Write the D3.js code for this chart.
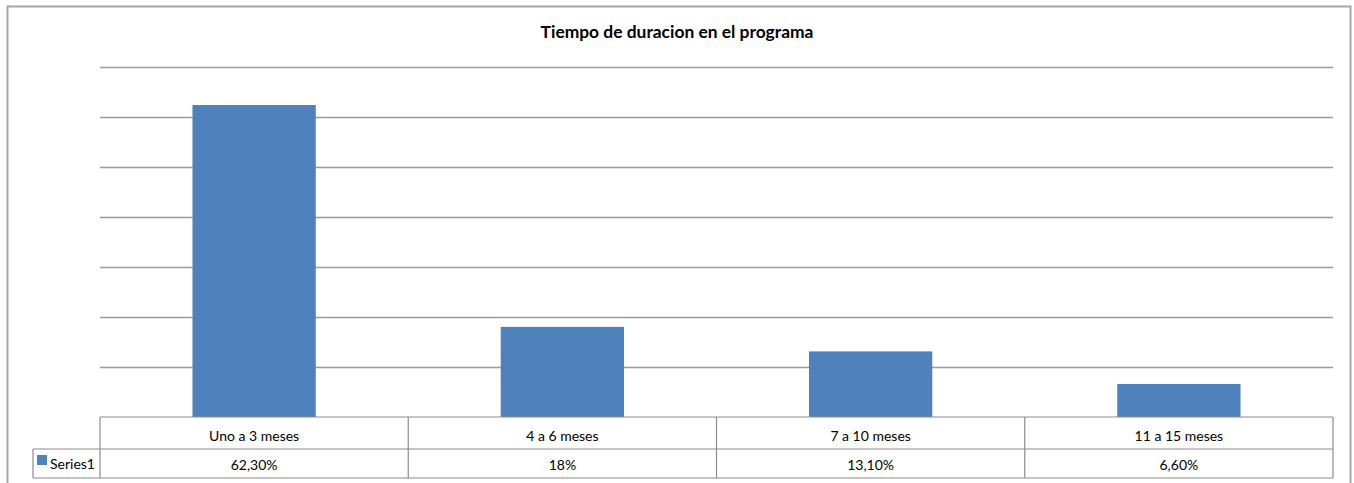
<!DOCTYPE html>
<html>
<head>
<meta charset="utf-8">
<script src="https://cdn.jsdelivr.net/npm/d3@7"></script>
<style>
  body { margin: 0; background: #fff; }
  svg text { font-family: Lato, "Open Sans", sans-serif; fill: #000; }
</style>
</head>
<body>
<div id="chart"></div>
<script>
// chart data
var title = "Tiempo de duracion en el programa";
var categories = ["Uno a 3 meses", "4 a 6 meses", "7 a 10 meses", "11 a 15 meses"];
var values = [62.3, 18, 13.1, 6.6];
var valueLabels = ["62,30%", "18%", "13,10%", "6,60%"];
var seriesName = "Series1";
var gridTicks = [0, 10, 20, 30, 40, 50, 60, 70];

var width = 1354, height = 483;
var svg = d3.select("#chart").append("svg").attr("width", width).attr("height", height);

// outer chart frame
svg.append("rect")
   .attr("x", 7.5).attr("y", 6.5)
   .attr("width", 1343).attr("height", 490)
   .attr("fill", "#fff").attr("stroke", "#a6a6a6").attr("stroke-width", 2);

svg.append("text")
   .attr("x", 677).attr("y", 38)
   .attr("text-anchor", "middle")
   .attr("font-size", "17.4px").attr("font-weight", "bold")
   .text(title);

var plot = {left: 100, right: 1333, top: 66.5, bottom: 417};

var x = d3.scaleBand().domain(categories).range([plot.left, plot.right]).paddingInner(0.6).paddingOuter(0.3);
var xCell = d3.scaleBand().domain(categories).range([plot.left, plot.right]);
var y = d3.scaleLinear().domain([0, 70]).range([plot.bottom, plot.top]);

// gridlines
svg.append("g").selectAll("line")
   .data(gridTicks.slice(1))
   .join("line")
   .attr("x1", plot.left).attr("x2", plot.right)
   .attr("y1", function(d) { return Math.round(y(d)) + 0.5; })
   .attr("y2", function(d) { return Math.round(y(d)) + 0.5; })
   .attr("stroke", "#9a9a9a").attr("stroke-width", 1.5);

// bars
svg.append("g").selectAll("rect")
   .data(values)
   .join("rect")
   .attr("x", function(d, i) { return x(categories[i]); })
   .attr("width", x.bandwidth())
   .attr("y", function(d) { return y(d); })
   .attr("height", function(d) { return y(0) - y(d); })
   .attr("fill", "#4f81bd");

// data table
var row1 = {top: 417, bottom: 449}, row2 = {top: 449, bottom: 478};
var legendLeft = 33;
var grid = svg.append("g").attr("stroke", "#8c8c8c").attr("stroke-width", 1.2).attr("fill", "none");
grid.append("line").attr("x1", plot.left).attr("x2", plot.right).attr("y1", row1.top).attr("y2", row1.top);
grid.append("line").attr("x1", legendLeft).attr("x2", plot.right).attr("y1", row2.top).attr("y2", row2.top);
grid.append("line").attr("x1", legendLeft).attr("x2", plot.right).attr("y1", row2.bottom).attr("y2", row2.bottom);
grid.append("line").attr("x1", legendLeft).attr("x2", legendLeft).attr("y1", row2.top).attr("y2", row2.bottom);
grid.selectAll(".vline")
    .data(categories.concat(["end"]))
    .join("line")
    .attr("x1", function(d) { return d === "end" ? plot.right : xCell(d); })
    .attr("x2", function(d) { return d === "end" ? plot.right : xCell(d); })
    .attr("y1", row1.top).attr("y2", row2.bottom);

svg.append("g").selectAll("text")
   .data(categories)
   .join("text")
   .attr("x", function(d) { return xCell(d) + xCell.bandwidth() / 2; })
   .attr("y", 440.5)
   .attr("text-anchor", "middle").attr("font-size", "14px")
   .text(function(d) { return d; });

svg.append("g").selectAll("text")
   .data(valueLabels)
   .join("text")
   .attr("x", function(d, i) { return xCell(categories[i]) + xCell.bandwidth() / 2; })
   .attr("y", 469.5)
   .attr("text-anchor", "middle").attr("font-size", "14px")
   .text(function(d) { return d; });

// legend key
svg.append("rect").attr("x", 37).attr("y", 455).attr("width", 10).attr("height", 10).attr("fill", "#4f81bd");
svg.append("text").attr("x", 50).attr("y", 468.5).attr("font-size", "14px").text(seriesName);
</script>
</body>
</html>
